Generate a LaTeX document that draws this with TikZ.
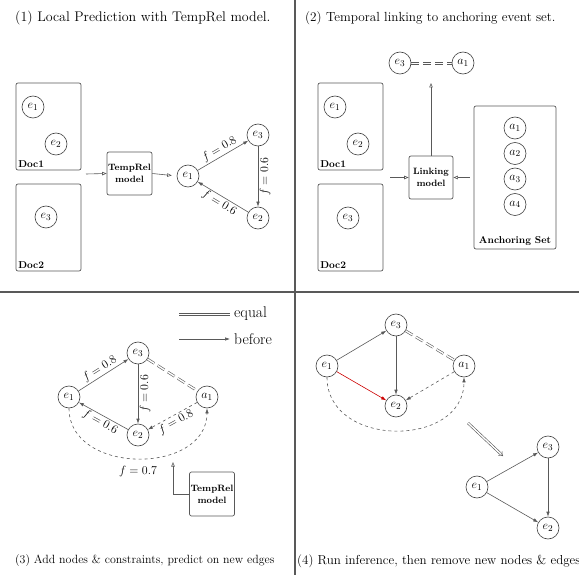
\documentclass[tikz,border=0pt]{standalone}
\usetikzlibrary{arrows.meta}

\begin{document}
\begin{tikzpicture}[x=1pt,y=-1pt,
  every node/.style={font=\fontsize{12}{14}\selectfont},
  ev/.style={circle,draw=black!75,line width=0.6pt,minimum size=22pt,inner sep=0pt,
    font=\fontsize{12.5}{14}\selectfont},
  docbox/.style={draw=black!65,line width=0.7pt,rounded corners=2pt,minimum width=65pt,minimum height=87pt},
  modelbox/.style={draw=black!65,line width=0.7pt,rounded corners=2pt,align=center,inner sep=1pt,
    font=\fontsize{9.2}{12}\selectfont\bfseries},
  doclabel/.style={anchor=south west,inner sep=2.5pt,font=\fontsize{10}{11}\selectfont\bfseries},
  caption/.style={anchor=west,inner sep=0pt},
  legend/.style={anchor=west,inner sep=4pt,font=\fontsize{15.5}{17}\selectfont},
  feed/.style={draw=black!65,line width=0.6pt,-{Triangle[open,length=4.5pt,width=3.5pt]}},
  rel/.style={draw=black!65,line width=0.6pt,-{Latex[length=5pt,width=3.5pt]}},
  eqline/.style={draw=black!65,line width=0.6pt,double,double distance=1.4pt},
  eq/.style={eqline,dash pattern=on 8pt off 4pt},
  % horizontal "equal" lines, one rail at a time
  rail/.style={draw=black!65,line width=0.7pt},
  wt/.style={sloped,inner sep=1.5pt,font=\fontsize{12}{14}\selectfont}]
\useasboundingbox (0,0) rectangle (579,575);
% dividers
\draw[black!65,line width=1.5pt] (295,0)--(295,575);
\draw[black!65,line width=1.5pt] (0,292)--(579,292);

% (1) local prediction
\node[caption,font=\fontsize{14}{16}\selectfont] (cap1) at (15,18) {(1) Local Prediction with TempRel model.};
\node[docbox] (p1doc1) at (48.5,126.5) {};
\node[doclabel] (p1lab1) at (p1doc1.south west) {Doc1};
\node[ev] (p1d1) at (33,107) {$e_1$};
\node[ev] (p1d2) at (56,144) {$e_2$};
\node[docbox] (p1doc2) at (48.5,227.5) {};
\node[doclabel] (p1lab2) at (p1doc2.south west) {Doc2};
\node[ev] (p1d3) at (46,217) {$e_3$};
\node[modelbox,minimum width=45pt,minimum height=43pt] (p1model) at (129.5,173.5) {TempRel\\model};
\coordinate (p1in) at (86,174);
\draw[feed] (p1in) -- (p1model.west);
\node[ev] (p1e1) at (188,176) {$e_1$};
\node[ev] (p1e3) at (258,135) {$e_3$};
\node[ev] (p1e2) at (258,218) {$e_2$};
\draw[feed,shorten >=5pt] (p1model.east) -- (p1e1.west);
\draw[rel] (p1e1) -- node[wt,above] {$f=0.8$} (p1e3);
\draw[rel] (p1e3) -- node[rotate=90,anchor=north,inner sep=1.5pt] {$f=0.6$} (p1e2);
\draw[rel] (p1e2) -- node[wt,below] {$f=0.6$} (p1e1);

% (2) temporal linking
\node[caption,font=\fontsize{13.2}{15}\selectfont] (cap2) at (305,18) {(2) Temporal linking to anchoring event set.};
\node[ev] (p2top3) at (400,63) {$e_3$};
\node[ev] (p2topa) at (463,63) {$a_1$};
\draw[rail,dash pattern=on 8pt off 4pt,transform canvas={yshift=1.1pt}] (p2top3) -- (p2topa);
\draw[rail,dash pattern=on 8pt off 4pt,transform canvas={yshift=-1.1pt}] (p2top3) -- (p2topa);
\node[docbox] (p2doc1) at (350.5,126.5) {};
\node[doclabel] (p2lab1) at (p2doc1.south west) {Doc1};
\node[ev] (p2d1) at (335,107) {$e_1$};
\node[ev] (p2d2) at (358,144) {$e_2$};
\node[docbox] (p2doc2) at (350.5,227.5) {};
\node[doclabel] (p2lab2) at (p2doc2.south west) {Doc2};
\node[ev] (p2d3) at (348,218) {$e_3$};
\node[modelbox,minimum width=44pt,minimum height=43pt] (p2link) at (431,177.5) {Linking\\model};
\node[docbox,minimum width=82pt,minimum height=143pt] (p2anchor) at (515,177.5) {};
\node[doclabel,anchor=south,inner sep=4pt] (p2alab) at (p2anchor.south) {Anchoring Set};
\node[ev] (p2a1) at (515,128) {$a_1$};
\node[ev] (p2a2) at (515,153.5) {$a_2$};
\node[ev] (p2a3) at (515,179) {$a_3$};
\node[ev] (p2a4) at (515,204.5) {$a_4$};
\coordinate (p2in) at (390,177.5);
\coordinate (p2up) at (431,83);
\draw[feed] (p2in) -- (p2link.west);
\draw[feed] (p2link.north) -- (p2up);
\draw[feed,shorten <=4pt] (p2anchor.west) -- (p2link.east);

% (3) add nodes and constraints
\coordinate (p3eqa) at (179,314);
\coordinate (p3eqb) at (230,314);
\draw[rail,transform canvas={yshift=1.1pt}] (p3eqa) -- (p3eqb);
\draw[rail,transform canvas={yshift=-1.1pt}] (p3eqa) -- (p3eqb);
\node[legend] (p3eqtxt) at (p3eqb) {equal};
\coordinate (p3bfa) at (179,339);
\coordinate (p3bfb) at (230,339);
\draw[rel] (p3bfa) -- (p3bfb);
\node[legend] (p3bftxt) at (p3bfb) {before};
\node[ev] (p3e1) at (69,397) {$e_1$};
\node[ev] (p3e3) at (138,353) {$e_3$};
\node[ev] (p3a1) at (207,397) {$a_1$};
\node[ev] (p3e2) at (138,435) {$e_2$};
\draw[rel] (p3e1) -- node[wt,above] {$f=0.8$} (p3e3);
\draw[rel] (p3e3) -- node[rotate=90,anchor=north,inner sep=1.5pt] {$f=0.6$} (p3e2);
\draw[rel] (p3e2) -- node[wt,below] {$f=0.6$} (p3e1);
\draw[eq] (p3e3) -- (p3a1);
\draw[rel,dashed] (p3a1) -- node[wt,below] {$f=0.8$} (p3e2);
\draw[rel,dashed] (p3e1.south) .. controls +(0,67) and +(0,67) .. node[below=4pt] {$f=0.7$} (p3a1.south);
\node[modelbox,minimum width=42pt,minimum height=44pt] (p3model) at (212,494) {TempRel\\model};
\coordinate (p3tip) at (173,462);
\draw[feed] (p3model.west) -| (p3tip);
\node[caption,font=\fontsize{11.9}{14}\selectfont] (cap3) at (15,561) {(3) Add nodes \& constraints, predict on new edges};

% (4) inference
\node[ev] (p4e3) at (396,325) {$e_3$};
\node[ev] (p4e1) at (327,366) {$e_1$};
\node[ev] (p4a1) at (464,366) {$a_1$};
\node[ev] (p4e2) at (396,406) {$e_2$};
\draw[rel] (p4e1) -- (p4e3);
\draw[rel] (p4e3) -- (p4e2);
\draw[eq] (p4e3) -- (p4a1);
\draw[rel,dashed] (p4a1) -- (p4e2);
\draw[rel,draw=red!80!black] (p4e1) -- (p4e2);
\draw[rel,dashed] (p4e1.south) .. controls +(0,71) and +(0,71) .. (p4a1.south);
\coordinate (p4from) at (468,423);
\coordinate (p4to) at (503,456);
\draw[eqline,-Implies] (p4from) -- (p4to);
\node[ev] (p4r3) at (548,447) {$e_3$};
\node[ev] (p4r1) at (477,487) {$e_1$};
\node[ev] (p4r2) at (548,528) {$e_2$};
\draw[rel] (p4r1) -- (p4r3);
\draw[rel] (p4r3) -- (p4r2);
\draw[rel] (p4r1) -- (p4r2);
\node[caption,font=\fontsize{13}{15}\selectfont] (cap4) at (297,561) {(4) Run inference, then remove new nodes \& edges};
\end{tikzpicture}
\end{document}
